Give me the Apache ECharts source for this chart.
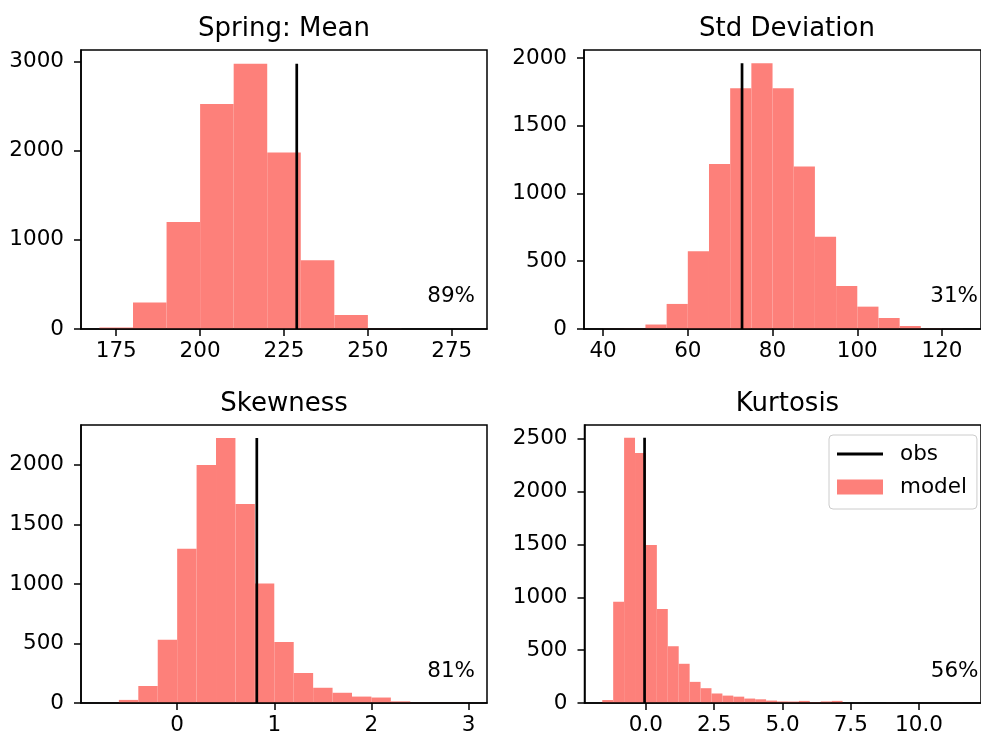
<!DOCTYPE html>
<html>
<head>
<meta charset="utf-8">
<script src="https://cdn.jsdelivr.net/npm/echarts@6/dist/echarts.min.js"></script>
<style>
html, body { margin: 0; padding: 0; background: #fff; }
#main { width: 981px; height: 736px; }
</style>
</head>
<body>
<div id="main"></div>
<script>
// panel titles
var titles = ['Spring: Mean', 'Std Deviation', 'Skewness', 'Kurtosis'];

// histogram bins: first edge + width, then counts per bin
var binStart = [170, 40, -0.8, -1.6];
var binWidth = [10, 5, 0.2, 0.4];
var meanCounts = [18, 296, 1201, 2525, 2975, 1979, 771, 157, 4, 0, 1];
var stdCounts = [1, 2, 33, 185, 573, 1218, 1776, 1961, 1776, 1200, 681, 317, 165, 81, 22, 3, 1];
var skewCounts = [1, 26, 143, 532, 1295, 2000, 2226, 1671, 1003, 512, 252, 128, 86, 54, 46, 14, 2, 1, 1];
var kurtCounts = [28, 958, 2510, 2365, 1495, 889, 537, 371, 200, 140, 90, 70, 60, 42, 35, 23, 15, 14, 20, 8, 15, 20,
                  0, 1, 0, 0, 1, 0, 0, 0, 0, 0, 1];

// observed values (black line) and percentile labels
var obsValues = [228.8, 72.8, 0.82, -0.05];
var percentLabels = ['89%', '31%', '81%', '56%'];

// tick labels
var xTicks = [
    [175, 200, 225, 250, 275],
    [40, 60, 80, 100, 120],
    [0, 1, 2, 3],
    [0, 2.5, 5, 7.5, 10]
];
var yTicks = [
    [0, 1000, 2000, 3000],
    [0, 500, 1000, 1500, 2000],
    [0, 500, 1000, 1500, 2000],
    [0, 500, 1000, 1500, 2000, 2500]
];

var allCounts = [meanCounts, stdCounts, skewCounts, kurtCounts];

// axis extents (matplotlib style 5% margins)
var xMin = [164.5, 35.5, -0.99, -2.25];
var xMax = [285.5, 129.2, 3.19, 12.27];
var yMax = [3130, 2059, 2335, 2630];

var boxes = [
    {left: 81, top: 50, width: 406, height: 279},
    {left: 584, top: 50, width: 406, height: 279},
    {left: 81, top: 425, width: 406, height: 279},
    {left: 584.5, top: 425, width: 406, height: 279}
];

var font = 'DejaVu Sans';
var barColor = '#FD807A';

function renderBin(params, api) {
    var a = api.coord([api.value(0), api.value(2)]);
    var b = api.coord([api.value(1), 0]);
    return {
        type: 'rect',
        shape: {x: a[0], y: a[1], width: b[0] - a[0], height: b[1] - a[1]},
        style: {fill: barColor}
    };
}

function fmt1(v) { return v.toFixed(1); }
function fmtInt(v) { return String(v); }

var grids = [], xAxes = [], yAxes = [], series = [], graphics = [];

for (var i = 0; i < 4; i++) {
    var box = boxes[i];
    grids.push({
        left: box.left, top: box.top, width: box.width, height: box.height,
        show: true, borderColor: '#000', borderWidth: 1.5
    });

    xAxes.push({
        type: 'value', gridIndex: i, min: xMin[i], max: xMax[i], z: 5,
        axisLine: {show: true, onZero: false, lineStyle: {color: '#000', width: 1.5}},
        axisTick: {show: true, length: 7, customValues: xTicks[i], lineStyle: {color: '#000', width: 1.5}},
        axisLabel: {
            customValues: xTicks[i], color: '#000', fontSize: 21.5, fontFamily: font, margin: 11,
            formatter: i == 3 ? fmt1 : fmtInt
        },
        splitLine: {show: false}
    });
    yAxes.push({
        type: 'value', gridIndex: i, min: 0, max: yMax[i], z: 5,
        axisLine: {show: true, onZero: false, lineStyle: {color: '#000', width: 1.5}},
        axisTick: {show: true, length: 7, customValues: yTicks[i], lineStyle: {color: '#000', width: 1.5}},
        axisLabel: {customValues: yTicks[i], color: '#000', fontSize: 21.5, fontFamily: font, margin: 17, formatter: fmtInt},
        splitLine: {show: false}
    });

    var counts = allCounts[i];
    var bins = [];
    for (var k = 0; k < counts.length; k++) {
        var lo = binStart[i] + k * binWidth[i];
        bins.push([lo, lo + binWidth[i], counts[k]]);
    }
    series.push({
        name: 'model', type: 'custom', xAxisIndex: i, yAxisIndex: i,
        renderItem: renderBin, itemStyle: {color: barColor},
        encode: {x: [0, 1], y: 2},
        data: bins, silent: true
    });
    var peak = Math.max.apply(null, counts);
    series.push({
        name: 'obs', type: 'line', xAxisIndex: i, yAxisIndex: i, z: 4,
        symbol: 'none', silent: true,
        lineStyle: {color: '#000', width: 2.7},
        itemStyle: {color: '#000'},
        data: [[obsValues[i], 0], [obsValues[i], peak]]
    });

    graphics.push({
        type: 'text', x: box.left + box.width / 2, y: box.top - 21,
        style: {text: titles[i], fill: '#000', font: '26px "DejaVu Sans"', textAlign: 'center', textVerticalAlign: 'middle'}
    });
    graphics.push({
        type: 'text', x: box.left + 394, y: box.top + 246,
        style: {text: percentLabels[i], fill: '#000', font: '21.5px "DejaVu Sans"', textAlign: 'right', textVerticalAlign: 'middle'}
    });
}

var myChart = echarts.init(document.getElementById('main'));
var option = {
    backgroundColor: '#fff',
    animation: false,
    grid: grids,
    xAxis: xAxes,
    yAxis: yAxes,
    legend: {
        orient: 'vertical', left: 829, top: 435,
        selectedMode: false,
        backgroundColor: 'rgba(255,255,255,0.8)',
        borderColor: '#ccc', borderWidth: 1, borderRadius: 4,
        padding: [8, 10, 11, 8],
        itemWidth: 46, itemHeight: 15, itemGap: 11,
        textStyle: {color: '#000', fontSize: 21.5, fontFamily: font, padding: [0, 0, 0, 12]},
        data: [
            {name: 'obs', icon: 'path://M0,0L48,0L48,3L0,3Z', itemStyle: {color: '#000'}},
            {name: 'model', icon: 'rect'}
        ]
    },
    graphic: graphics,
    series: series
};
myChart.setOption(option);
</script>
</body>
</html>
